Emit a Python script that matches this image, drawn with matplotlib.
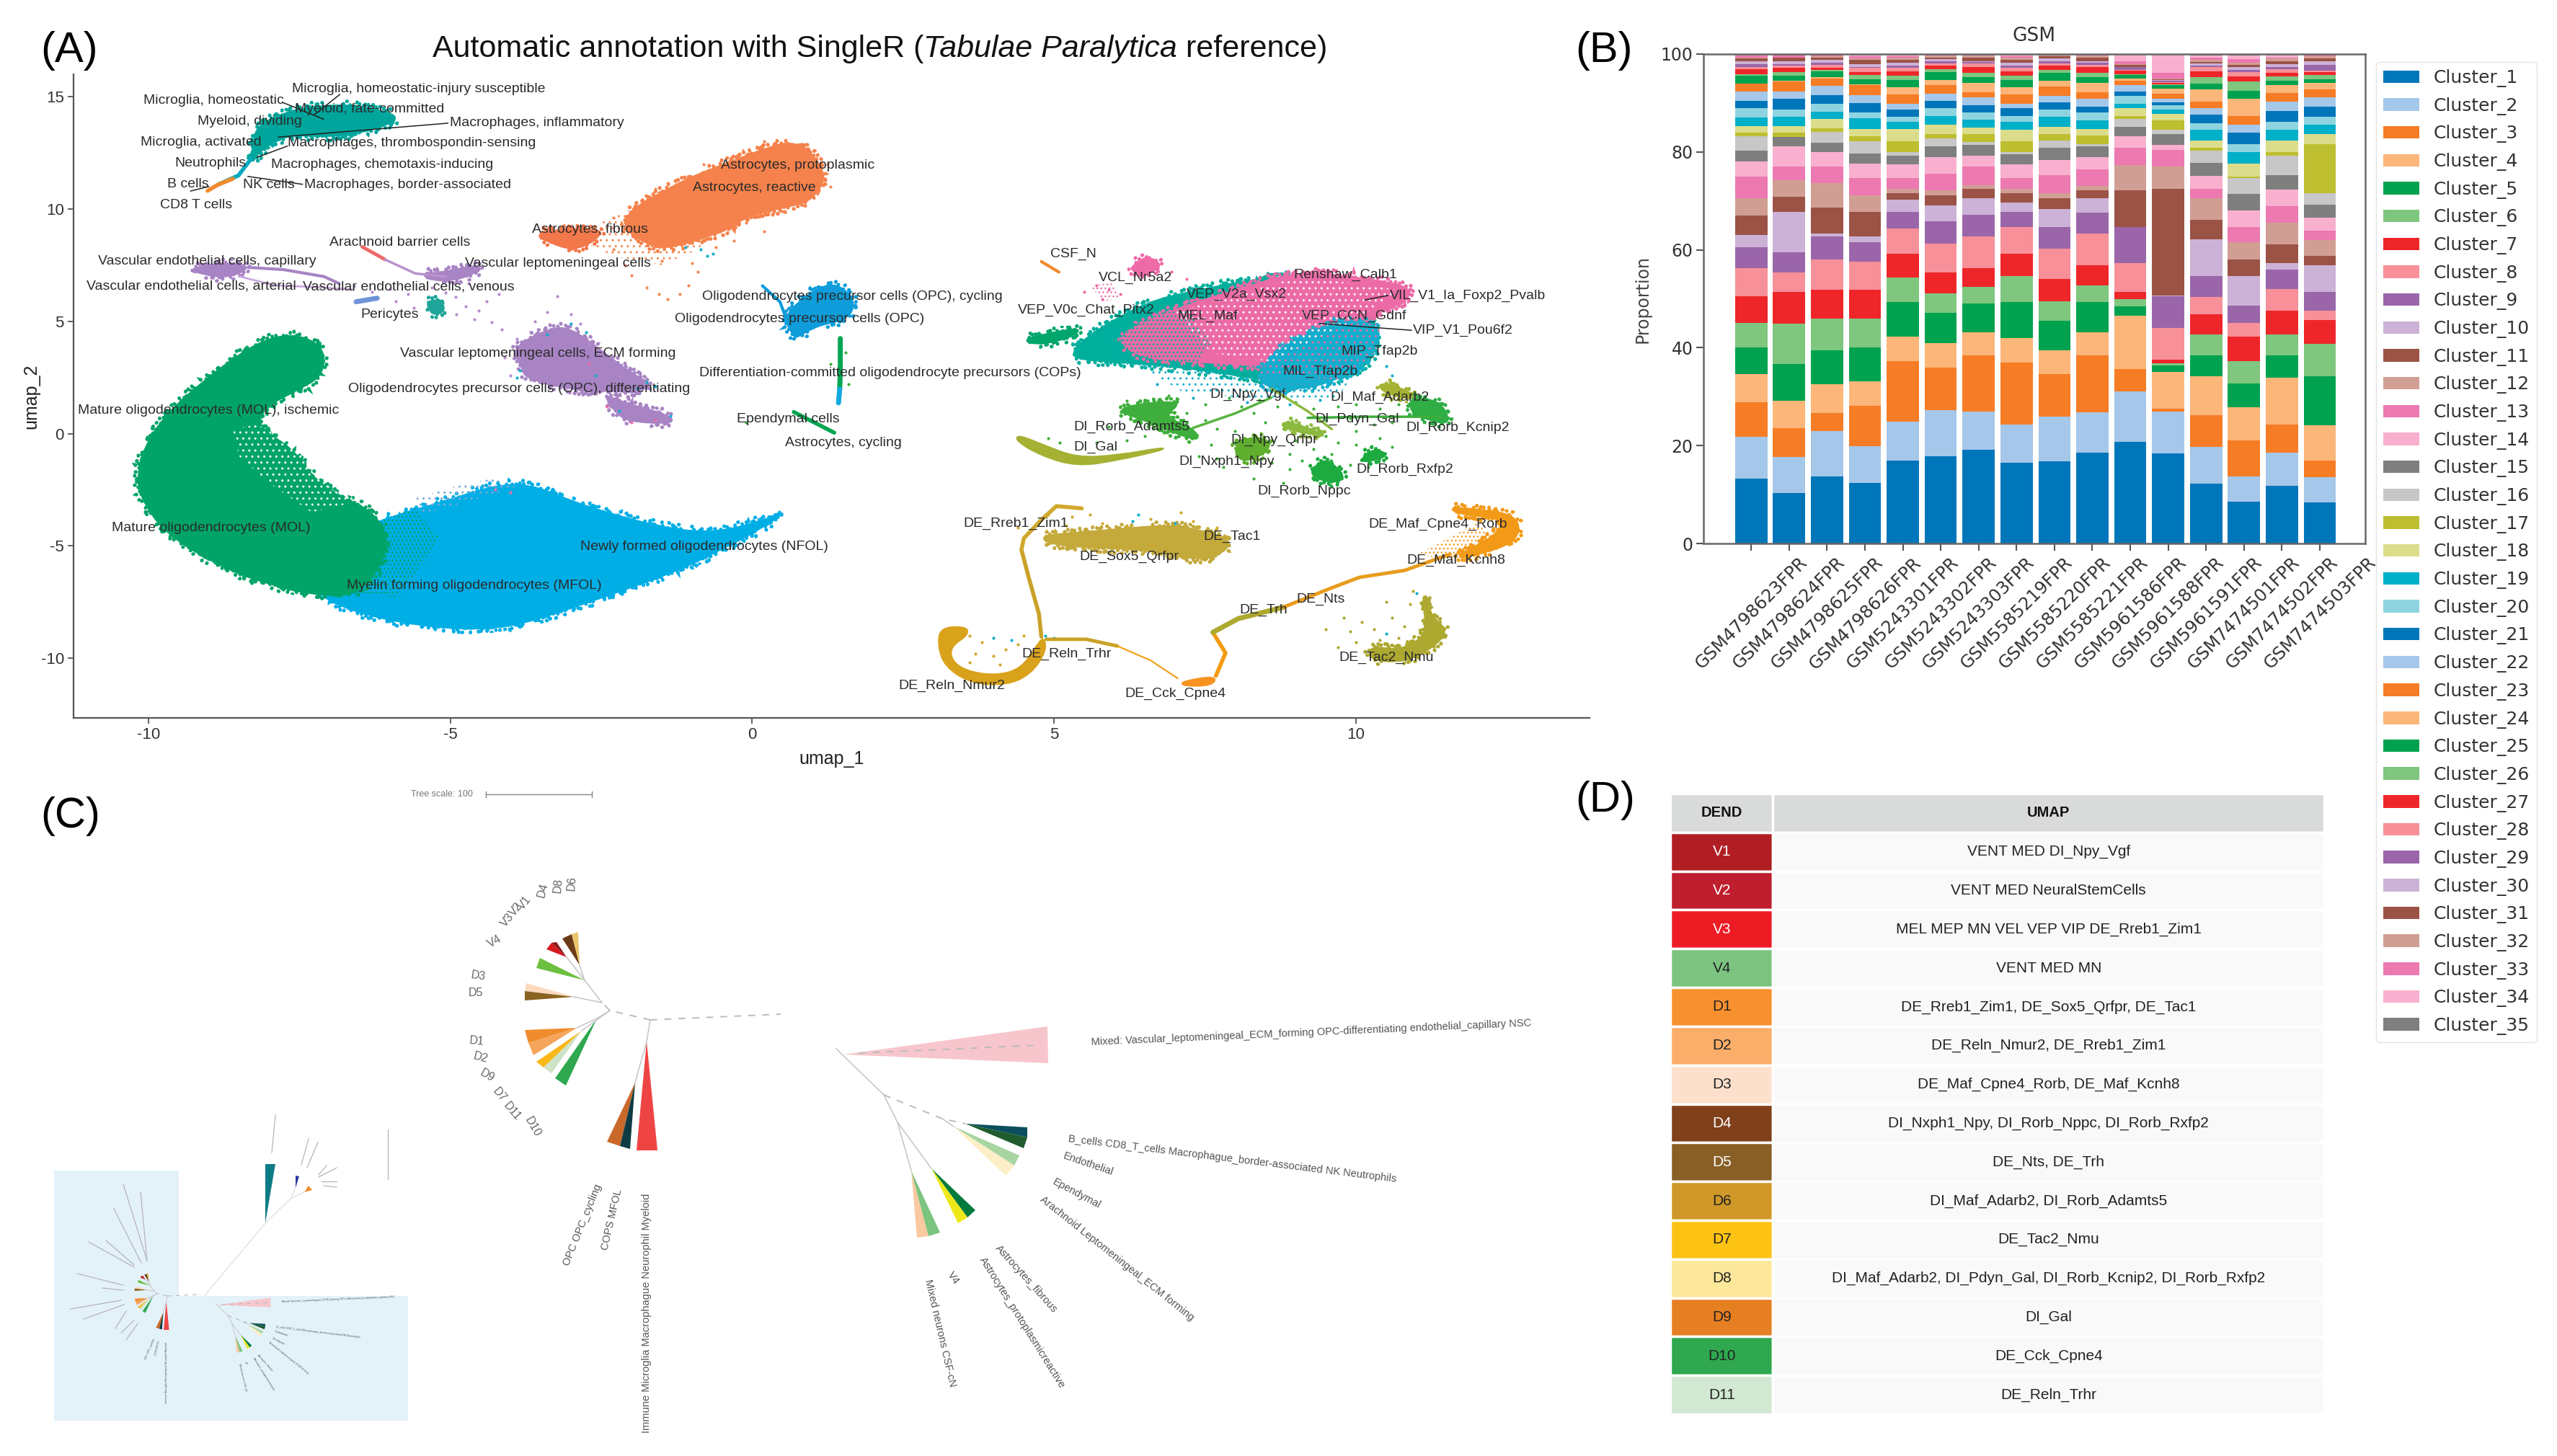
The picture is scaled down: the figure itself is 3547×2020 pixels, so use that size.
import numpy as np
import matplotlib
matplotlib.use('Agg')
import matplotlib.pyplot as plt
from matplotlib.patches import Polygon, Patch, PathPatch
from matplotlib.path import Path
from matplotlib.transforms import Affine2D

W, H = 3547, 2020
plt.rcParams['font.family'] = ['Liberation Sans', 'DejaVu Sans']
plt.rcParams['hatch.linewidth'] = 1.0

# ---------- panel A data, umap units
mol_outline = [(-7.09, 3.82), (-7.51, 4.4), (-8.01, 4.25), (-8.51, 3.5), (-9.10, 2.3), (-9.65, 1.0), (-10.05, -0.47),
               (-10.2, -2.1), (-10.05, -3.2), (-9.7, -4.45), (-8.95, -5.7), (-8.26, -6.5), (-7.26, -7.2), (-6.5, -7.2),
               (-6.0, -5.2), (-6.2, -3.6), (-6.9, -2.7), (-7.3, -1.9), (-7.6, -0.7), (-8.2, 0.3), (-8.1, 1.16), (-7.51, 1.98),
               (-7.11, 2.6)]
mfol_outline = [(-7.26, -7.11), (-6.59, -7.93), (-5.75, -8.44), (-4.74, -8.74), (-3.9, -8.54), (-3.06, -7.82), (-2.06, -6.9),
                (-1.13, -5.98), (-0.38, -4.96), (0.13, -4.25), (0.6, -3.39), (0.13, -3.95), (-0.71, -4.46), (-1.55, -4.15),
                (-2.39, -3.54), (-2.98, -3.03), (-3.73, -2.21), (-4.40, -2.41), (-5.08, -3.03), (-5.91, -3.64), (-6.59, -4.35),
                (-7.09, -5.37)]
mol_holes = [(-8.6, 0.2), (-8.2, 0.4), (-7.5, -0.6), (-6.95, -1.9), (-6.5, -3.0), (-7.3, -3.5), (-8.0, -2.2), (-8.5, -1.0)]
mfol_mix = [(-7.0, -6.9), (-6.6, -4.4), (-5.6, -3.3), (-5.2, -4.6), (-5.5, -6.0), (-5.9, -7.3)]
mid_sparse = [(-5.6, -2.9), (-5.0, -2.4), (-4.3, -2.0), (-3.9, -2.4), (-4.8, -3.1), (-5.5, -3.6)]
myeloid_outline = [(-8.26, 13.02), (-8.18, 13.73), (-7.76, 14.25), (-7.42, 14.51), (-6.75, 14.65), (-6.25, 14.45), (-5.87, 14.14),
                   (-6.0, 13.8), (-6.42, 13.43), (-7.0, 13.22), (-7.63, 13.32), (-7.93, 12.98), (-8.18, 12.51), (-8.3, 12.0)]
myeloid_tail = [(-8.31, 12.2), (-8.51, 11.49), (-8.85, 11.08)]
tcell_tail = [(-8.6, 11.35), (-8.85, 11.08), (-9.02, 10.81)]
astro_outline = [(-2.3, 9.5), (-1.22, 11.18), (-0.46, 12.0), (0.38, 12.85), (0.70, 12.95), (0.98, 12.5), (1.2, 11.59), (1.15, 11.0),
                 (0.94, 10.36), (0.69, 10.16), (-0.04, 9.75), (-0.46, 9.04), (-1.13, 8.42), (-1.64, 8.22)]
astro_sparse = [(-3.0, 8.8), (-2.0, 10.0), (-1.0, 11.2), (-0.3, 10), (-0.9, 8.2), (-1.5, 7.5), (-2.3, 7.9)]
fibrous_outline = [(-3.61, 8.89), (-2.98, 9.14), (-2.47, 9.03), (-2.64, 8.52), (-2.98, 8.17), (-3.36, 8.52)]
capillary_outline = [(-9.31, 7.30), (-8.85, 7.6), (-8.35, 7.5), (-8.43, 7.2), (-8.77, 6.93), (-9.23, 7.2)]
venous_outline = [(-5.5, 7.09), (-5.08, 7.19), (-4.57, 7.5), (-4.49, 7.3), (-4.82, 6.89), (-5.24, 6.79)]
vlmc_outline = [(-3.98, 3.82), (-3.31, 4.74), (-2.98, 4.64), (-2.56, 3.82), (-1.97, 2.6), (-1.64, 2.19), (-1.97, 1.78), (-2.39, 1.98),
                (-2.56, 1.78), (-3.73, 2.39), (-3.82, 3.0)]
opc_diff_outline = [(-2.47, 1.78), (-2.14, 1.37), (-1.55, 0.96), (-1.3, 0.65), (-1.38, 0.45), (-2.06, 0.55), (-2.26, 0.96)]
pericyte_outline = [(-5.41, 5.87), (-5.16, 5.97), (-5.08, 5.46), (-5.29, 5.25)]
opc_outline = [(0.99, 6.27), (1.28, 6.68), (1.57, 6.38), (1.71, 5.66), (1.53, 5.05), (1.11, 4.84), (0.82, 4.43), (0.69, 4.23), (0.55, 5.25),
               (0.78, 5.87)]
neuron_teal = [(5.3, 3.7), (5.7, 4.6), (6.55, 5.87), (7.38, 6.38), (8.47, 6.93), (9.14, 6.99), (9.89, 6.07), (10.43, 4.64), (10.14, 2.6),
               (8.89, 2.19), (7.38, 2.9), (6.05, 3.2), (5.38, 3.31)]
neuron_pink = [(6.0, 4.3), (7.05, 5.6), (8.05, 6.4), (9.0, 7.2), (9.89, 7.0), (10.95, 6.55), (10.8, 5.8), (10.23, 5.25), (9.56, 4.23),
               (8.72, 3.0), (8.05, 3.1), (7.3, 3.2), (6.4, 3.4)]
neuron_cyan = [(9.06, 4.23), (9.72, 5.05), (10.43, 4.84), (10.31, 3.62), (9.89, 2.6), (9.06, 1.9), (8.3, 2.2), (8.64, 3.62)]
neuron_left = [(5.6, 4.6), (7.2, 5.6), (7.6, 4.0), (7.3, 2.9), (6.1, 3.1)]
neuron_mottle = [(7.0, 5.4), (8.0, 6.2), (9.1, 7.0), (10.7, 6.4), (10.1, 5.2), (9.4, 4.3), (8.6, 3.2), (7.6, 3.6)]
neuron_under = [(6.3, 3.2), (8.3, 2.6), (9.9, 2.4), (9.7, 1.6), (8.4, 1.5), (7.1, 1.9)]
v0c_tail = [(4.46, 4.17), (5.0, 4.5), (5.45, 4.7), (5.3, 4.3), (4.75, 3.95)]
vcl_outline = [(6.3, 7.5), (6.55, 7.91), (6.8, 7.5), (6.55, 7.09), (6.3, 7.19)]
vcl_small = [(5.6, 6.6), (5.95, 6.7), (6.1, 6.0), (5.8, 5.9)]
adamts_outline = [(6.0, 1.06), (6.55, 1.37), (7.13, 1.41), (6.8, 0.76), (7.3, 0.25), (7.42, -0.31), (7.09, -0.06), (6.55, 0.55)]
gal_outline = [(4.41, -0.06), (4.87, -0.57), (5.38, -1.08), (6.05, -0.98), (6.8, -0.63), (6.8, -0.72), (6.05, -1.18), (5.38, -1.45),
               (4.79, -0.98), (4.37, -0.31)]
qrfpr_outline = [(7.97, -0.6), (8.22, -0.15), (8.6, -0.3), (8.5, -0.9), (8.1, -1.3)]
pdyn_outline = [(8.8, 0.55), (9.1, 0.35), (9.55, -0.15), (9.2, 0.0), (8.8, 0.25)]
nppc_outline = [(9.39, -1.29), (9.56, -1.19), (9.85, -2.0), (9.56, -2.21), (9.22, -1.8)]
rxfp2_outline = [(10.1, -1.08), (10.31, -0.67), (10.56, -0.98), (10.14, -1.29)]
adarb2_outline = [(10.42, 2.31), (10.97, 1.78), (10.9, 1.5), (10.4, 1.9)]
kcnip2_outline = [(10.9, 1.6), (11.4, 1.45), (11.58, 0.39), (11.15, 0.65), (10.9, 1.0)]
nmur2_outline = [(3.12, -8.65), (3.54, -8.6), (3.58, -8.95), (3.29, -9.46), (3.29, -10.08), (3.54, -10.59), (4.04, -10.79), (4.46, -10.48),
                 (4.71, -9.46), (4.83, -9.05), (4.87, -9.67), (4.62, -10.69), (4.21, -11.2), (3.62, -11.1), (3.2, -10.38), (3.08, -9.46)]
cck_outline = [(7.09, -11.06), (7.68, -10.79), (7.63, -11.2), (7.17, -11.24)]
cpne4_outline = [(11.52, -3.33), (11.9, -3.33), (12.69, -3.64), (12.69, -4.76), (12.07, -5.37), (11.56, -5.58), (12.4, -4.45), (12.4, -3.74),
                 (11.82, -3.64)]
tac2_outline = [(11.1, -7.01), (11.27, -8.24), (11.52, -8.75), (11.31, -9.46), (10.81, -10.18), (10.23, -10.08), (10.23, -9.46), (10.73, -9.67),
                (11.15, -9.05), (11.15, -8.03)]
tac1_outline = [(4.71, -4.56), (5.71, -4.35), (6.96, -4.05), (7.47, -4.35), (7.97, -4.76), (7.72, -5.48), (7.22, -5.58), (6.55, -5.17),
                (5.71, -5.07), (5.04, -4.97)]
cpne4_sparse = [(11.0, -5.4), (12.0, -4.0), (12.3, -4.6), (11.6, -5.6)]

# thin strands, each read as a polyline
capillary_strand = [(-8.35, 7.4), (-7.76, 7.3), (-7.09, 6.99), (-6.84, 6.68)]
capillary_strand2 = [(-8.5, 7.0), (-7.9, 6.6), (-7.2, 6.52), (-6.6, 6.4)]
arachnoid_strand = [(-6.46, 8.32), (-6.08, 7.75)]
venous_strand = [(-6.08, 7.75), (-5.58, 7.13), (-5.08, 6.99)]
arterial_strand = [(-6.56, 5.87), (-6.21, 6.03)]
opc_strand = [(0.17, 6.58), (0.46, 5.87), (0.63, 4.64)]
cop_strand = [(1.46, 4.23), (1.46, 2.8), (1.45, 1.98)]
cop_blue = [(1.45, 1.98), (1.43, 1.37)]
ependymal_strand = [(0.69, 0.96), (1.36, 0.04)]
csf_strand = [(4.79, 7.66), (5.08, 7.19)]
di_strand1 = [(7.3, 0.25), (8.0, 0.9), (8.6, 1.6)]
di_strand2 = [(8.6, 2.0), (9.2, 1.0), (9.6, 0.2)]
di_strand3 = [(9.2, 0.7), (10.2, 0.75), (11.4, 0.75)]
rreb_strand = [(4.46, -5.17), (4.58, -6.4), (4.75, -8.03), (4.79, -9.05)]
rreb_strand2 = [(4.46, -5.17), (4.5, -4.66), (4.79, -3.84), (5.04, -3.23), (5.46, -3.33)]
trhr_strand = [(4.87, -9.16), (5.54, -9.16), (6.05, -9.46)]
trhr_strand2 = [(6.05, -9.46), (6.6, -10.1), (7.05, -10.9)]
cck_strand = [(7.68, -10.79), (7.84, -9.77), (7.63, -8.85)]
trh_strand = [(7.63, -8.85), (8.05, -8.24), (8.8, -7.73)]
nts_strand = [(8.8, -7.73), (9.56, -6.91), (10.06, -6.4), (10.81, -6.09), (11.56, -5.37)]

purple_dots = [(-5.08, 6.27), (-4.91, 6.07), (-4.74, 5.66), (-4.53, 5.46), (-4.32, 4.95), (-4.15, 4.64), (-3.9, 4.23), (-5.3, 6.5), (-4.4, 5.9),
               (-3.23, 6.1), (-3.4, 5.4), (-2.85, 4.9), (-6.6, 6.55), (-6.3, 6.3), (-6.0, 6.45), (-5.7, 6.2), (-4.7, 6.7), (-4.2, 6.2), (-3.6, 5.0),
               (-3.0, 5.3), (-5.9, 5.9), (-5.6, 5.6), (-4.9, 5.3), (-4.6, 5.1), (-4.1, 3.4), (-4.0, 2.6), (-3.1, 2.0), (-2.2, 2.6), (-2.7, 4.0)]
orange_dots = [(-2.0, 7.05), (-1.75, 6.5), (-1.55, 6.2), (-1.4, 6.0), (-1.2, 6.2), (-1.05, 6.6), (-0.9, 7.2), (-0.6, 8.3), (-0.3, 8.6), (0.2, 9.0),
               (-1.0, 7.6), (-1.5, 7.7), (-2.1, 7.5), (-2.3, 8.2), (1.3, 11.0), (1.25, 12.0), (0.2, 13.0), (-0.8, 12.0), (-1.6, 10.9), (-2.3, 9.6),
               (0.5, 9.9), (-0.1, 9.4), (-0.7, 8.7)]
cyan_dots = [(-3.4, 4.4), (-3.0, 4.9), (-2.75, 4.5), (-3.9, 2.5), (-2.2, 1.0), (-0.85, 8.2), (-0.75, 7.9), (-0.65, 8.0), (-1.1, 8.3), (-1.6, 2.1),
             (-1.75, 2.3), (-1.9, 2.0), (-2.6, 2.6), (-1.35, 0.8), (-3.85, 2.8), (7.0, -4.0), (6.3, -3.9), (6.4, -3.6), (10.5, -8.9), (11.0, -7.1),
             (4.0, -9.1), (4.3, -9.2), (4.85, -9.0), (5.0, -9.1), (8.2, 1.4), (8.9, 1.3), (9.4, 1.5), (7.3, 1.6), (6.7, 2.2), (10.5, 3.0), (10.6, 2.6)]
pink_dots = [(-2.4, 1.2), (-2.0, 0.5), (-1.6, 0.6), (-2.7, 3.1), (5.5, 6.3), (5.8, 6.0), (6.1, 6.2), (7.2, 6.9), (-4.25, -2.5), (-4.0, -2.6),
             (6.95, 7.2), (5.9, 6.4), (5.7, 6.6), (10.9, 6.2), (10.8, 5.8)]
green_dots = [(7.2, 0.9), (7.5, 0.6), (7.7, 0.2), (8.0, 0.1), (8.3, 0.9), (8.5, 0.5), (8.7, 1.2), (9.0, 1.4), (9.3, 1.1), (9.7, 1.2), (10.0, 1.3), (10.4, 1.1),
              (10.6, 0.5), (10.0, 0.1), (9.7, -0.4), (9.3, -0.7), (8.9, -0.9), (8.6, -1.3), (8.9, -1.6), (9.1, -1.2), (10.0, -0.5), (10.4, -0.2), (10.2, -1.5),
              (9.9, -1.4), (7.6, -0.5), (7.4, -1.0), (7.8, -1.5), (8.3, -2.0), (8.8, -2.2), (6.5, -0.1), (6.2, -0.3), (5.9, 0.3), (6.9, 1.7), (7.5, 1.3),
              (6.2, 1.45), (5.7, -0.4), (5.1, -0.4), (4.9, -0.2), (-0.1, 0.5), (1.55, 3.6), (1.3, 3.1), (1.6, 2.2), (7.9, 1.6), (8.1, 1.2), (8.4, 1.5),
              (9.5, 0.6), (9.9, 0.7), (10.3, 0.4), (10.7, 1.3), (8.0, -0.4), (7.7, -1.1), (9.5, -0.1), (9.0, -0.3), (10.6, -0.6), (9.6, -0.9), (7.1, 0.4)]
mustard_dots = [(4.9, -3.6), (5.3, -3.7), (5.6, -3.6), (5.2, -4.1), (5.8, -4.0), (6.2, -4.1), (6.6, -3.8), (7.1, -3.5), (7.3, -3.9), (7.7, -4.2), (4.4, -4.2),
                (3.6, -9.0), (3.8, -9.3), (3.7, -9.8), (4.0, -9.9), (4.2, -9.6), (4.4, -9.4), (4.5, -9.0), (4.1, -10.3), (3.6, -10.2)]
olive_dots = [(9.8, -8.2), (9.9, -8.8), (10.1, -8.4), (10.3, -8.7), (10.6, -8.2), (10.5, -7.5), (10.9, -7.6), (10.8, -8.6), (10.7, -9.1), (10.0, -9.3), (9.7, -9.5),
              (10.4, -9.2), (10.95, -7.0), (9.5, -8.7)]

umap_labels = ['Microglia, homeostatic-injury susceptible', 'Microglia, homeostatic', 'Myeloid, fate-committed', 'Myeloid, dividing',
               'Macrophages, inflammatory', 'Microglia, activated', 'Macrophages, thrombospondin-sensing', 'Neutrophils',
               'Macrophages, chemotaxis-inducing', 'B cells', 'NK cells', 'Macrophages, border-associated', 'CD8 T cells',
               'Astrocytes, protoplasmic', 'Astrocytes, reactive', 'Astrocytes, fibrous', 'Arachnoid barrier cells',
               'Vascular endothelial cells, capillary', 'Vascular leptomeningeal cells', 'Vascular endothelial cells, arterial',
               'Vascular endothelial cells, venous', 'Pericytes', 'Oligodendrocytes precursor cells (OPC), cycling',
               'Oligodendrocytes precursor cells (OPC)', 'Vascular leptomeningeal cells, ECM forming',
               'Oligodendrocytes precursor cells (OPC), differentiating', 'Differentiation-committed oligodendrocyte precursors (COPs)',
               'Mature oligodendrocytes (MOL), ischemic', 'Ependymal cells', 'Astrocytes, cycling', 'Mature oligodendrocytes (MOL)',
               'Myelin forming oligodendrocytes (MFOL)', 'Newly formed oligodendrocytes (NFOL)', 'CSF_N', 'VCL_Nr5a2', 'VEP_V0c_Chat_Pitx2',
               'VEP_V2a_Vsx2', 'MEL_Maf', 'Renshaw_Calb1', 'VIL_V1_Ia_Foxp2_Pvalb', 'VEP_CCN_Gdnf', 'VIP_V1_Pou6f2', 'MIP_Tfap2b', 'MIL_Tfap2b',
               'DI_Npy_Vgf', 'DI_Maf_Adarb2', 'DI_Pdyn_Gal', 'DI_Rorb_Kcnip2', 'DI_Rorb_Adamts5', 'DI_Npy_Qrfpr', 'DI_Gal', 'DI_Nxph1_Npy',
               'DI_Rorb_Rxfp2', 'DI_Rorb_Nppc', 'DE_Rreb1_Zim1', 'DE_Tac1', 'DE_Sox5_Qrfpr', 'DE_Maf_Cpne4_Rorb', 'DE_Maf_Kcnh8', 'DE_Nts',
               'DE_Trh', 'DE_Reln_Trhr', 'DE_Tac2_Nmu', 'DE_Reln_Nmur2', 'DE_Cck_Cpne4']
umap_label_x = [-7.62, -10.08, -7.57, -9.19, -5.01, -10.13, -7.69, -9.56, -7.97, -9.69, -8.43, -7.42, -9.81, -0.52, -0.98, -3.65, -7.0, -10.84, -4.76,
                -11.02, -7.44, -6.48, -0.83, -1.28, -5.83, -6.69, -0.88, -11.17, -0.26, 0.55, -10.61, -6.71, -2.85, 4.94, 5.74, 4.4, 7.2, 7.05, 8.97,
                10.56, 9.1, 10.94, 9.75, 8.79, 7.58, 9.58, 9.32, 10.83, 5.32, 7.93, 5.32, 7.07, 10, 8.37, 3.5, 7.47, 5.42, 10.21, 10.84, 9.01, 8.07,
                4.46, 9.72, 2.42, 6.17]
umap_label_y = [15.35, 14.84, 14.45, 13.9, 13.82, 12.98, 12.92, 12.04, 11.98, 11.1, 11.06, 11.06, 10.16, 11.94, 10.93, 9.09, 8.5, 7.68, 7.56, 6.58, 6.54,
                5.31, 6.11, 5.09, 3.56, 1.98, 2.7, 1.04, 0.65, -0.41, -4.21, -6.76, -5.03, 7.99, 6.93, 5.48, 6.21, 5.25, 7.05, 6.15, 5.23, 4.58, 3.66,
                2.76, 1.74, 1.61, 0.63, 0.25, 0.29, -0.29, -0.59, -1.25, -1.59, -2.55, -4.01, -4.6, -5.5, -4.05, -5.64, -7.38, -7.87, -9.83, -9.99,
                -11.24, -11.59]
# leader lines of the repelled labels
leaders = [[(-6.83, 15.1), (-7.25, 14.2)], [(-7.78, 14.75), (-7.1, 14.0)], [(-5.04, 13.82), (-7.85, 13.2)], [(-7.7, 12.8), (-8.2, 12.3)],
           [(-7.45, 11.1), (-8.35, 11.45)], [(-9.3, 10.8), (-9.0, 11.0)], [(10.53, 6.15), (10.15, 5.95)], [(10.92, 4.6), (9.4, 4.9)]]

# ---------- panel B data
gsm_samples = ['GSM4798623FPR', 'GSM4798624FPR', 'GSM4798625FPR', 'GSM4798626FPR', 'GSM5243301FPR', 'GSM5243302FPR', 'GSM5243303FPR', 'GSM5585219FPR',
               'GSM5585220FPR', 'GSM5585221FPR', 'GSM5961586FPR', 'GSM5961588FPR', 'GSM5961591FPR', 'GSM7474501FPR', 'GSM7474502FPR', 'GSM7474503FPR']
cluster_names = ['Cluster_%d' % i for i in range(1, 36)]
cluster_colours = ['#0076BA', '#A5C7E9', '#F67C26', '#FCB679', '#00A24F', '#7FC67F', '#EE262A', '#F79098', '#9A66A9', '#CCB2D6',
                   '#9B5346', '#D19E94', '#EC79B0', '#F8B0CE', '#7F7F7F', '#C7C7C7', '#BDBE30', '#DBDD8B', '#00AFC8', '#8ED4E0']
# cumulative top of each cluster in each bar, in percent
# the thin clusters at the top of a bar are not always readable, what is missing runs up to 100
top_1 = [13.2, 21.8, 28.9, 34.6, 40.1, 45.1, 50.5, 56.2, 60.5, 63.0, 67.0, 70.5, 74.9, 78.1, 80.3, 83.2, 83.9, 85.3, 87.0, 88.9, 90.4, 92.4, 93.9, 93.9, 95.6,
         95.9, 96.9, 97.3, 98.0, 98.5, 99.1, 99.3, 99.7, 99.9]
top_2 = [10.3, 17.6, 23.5, 29.2, 36.6, 44.9, 51.4, 55.4, 59.5, 67.8, 70.8, 74.3, 77.0, 81.1, 83.0, 83.1, 83.9, 85.3, 87.2, 88.6, 90.9, 92.4, 94.4, 94.5, 95.6,
         96.3, 97.2, 97.6, 98.0, 98.6, 99.2, 99.3, 99.9]
top_3 = [13.7, 23.0, 26.6, 32.6, 39.5, 45.9, 51.9, 58.1, 62.7, 63.4, 68.6, 73.6, 77.0, 80.0, 81.9, 84.1, 84.9, 86.7, 88.2, 89.9, 91.6, 93.5, 95.0, 95.3, 96.4,
         96.8, 97.2, 97.8, 98.3, 98.8, 99.3, 99.6, 99.8]
top_4 = [12.4, 19.9, 28.1, 33.1, 40.1, 45.9, 51.9, 57.6, 61.6, 62.8, 67.8, 71.1, 74.6, 77.6, 79.7, 82.2, 83.2, 84.7, 86.9, 88.1, 90.0, 91.6, 93.6, 93.8, 94.9,
         95.8, 96.3, 97.2, 97.4, 98.0, 98.8, 99.1, 99.6]
top_5 = [17.0, 24.9, 37.3, 42.2, 49.3, 54.3, 59.2, 64.4, 67.8, 70.3, 71.6, 72.4, 74.7, 77.4, 79.3, 79.9, 82.2, 84.7, 86.1, 87.2, 88.7, 89.9, 91.7, 93.2, 94.7,
         95.6, 96.5, 97.2, 97.6, 98.3, 98.8, 99.2, 99.6]
top_6 = [17.8, 27.3, 35.9, 41.0, 47.1, 51.1, 55.4, 61.2, 65.9, 69.1, 71.1, 72.1, 75.5, 78.9, 81.1, 82.7, 83.6, 85.5, 87.4, 88.9, 90.4, 91.9, 93.6, 94.7, 96.3,
         96.9, 97.6, 98.1, 98.5, 98.9, 99.3, 99.7, 99.9]
top_7 = [19.2, 27.0, 38.4, 43.2, 49.0, 52.4, 56.2, 62.8, 67.1, 70.6, 72.5, 73.2, 77.0, 79.2, 81.4, 82.0, 83.6, 85.0, 86.6, 88.0, 89.5, 91.1, 92.2, 94.1, 95.3,
         96.2, 97.3, 98.1, 98.4, 98.6, 99.2, 99.7, 99.9]
top_8 = [16.5, 24.3, 37.0, 41.9, 49.3, 54.6, 59.2, 64.7, 67.8, 69.7, 71.6, 72.4, 74.7, 77.4, 79.5, 79.9, 82.2, 84.5, 86.1, 87.3, 88.9, 89.9, 91.7, 93.2, 94.7,
         95.6, 96.5, 97.2, 97.6, 98.3, 98.8, 99.3, 99.6]
top_9 = [16.8, 25.9, 34.6, 39.4, 45.5, 49.5, 54.1, 60.3, 64.7, 68.4, 70.5, 71.6, 75.2, 78.4, 80.8, 82.4, 83.6, 85.1, 87.2, 88.6, 90.1, 91.5, 93.4, 94.6, 96.1,
         96.8, 97.6, 98.1, 98.6, 99.1, 99.5, 99.8, 99.9]
top_10 = [18.6, 26.8, 38.4, 43.2, 49.3, 52.7, 56.8, 63.3, 67.6, 70.5, 72.2, 73.0, 76.5, 78.9, 81.2, 81.6, 83.3, 84.7, 86.4, 88.0, 89.3, 90.9, 92.2, 94.1, 95.3,
          96.1, 97.3, 97.8, 98.2, 98.6, 99.2, 99.7, 99.9]
top_11 = [20.8, 31.1, 35.7, 46.5, 48.4, 50.0, 51.4, 57.3, 64.7, 64.7, 72.2, 77.3, 80.8, 83.2, 85.1, 86.8, 87.4, 88.9, 89.9, 91.4, 92.4, 93.6, 94.5, 95.0, 95.8,
          95.9, 96.6, 96.8, 97.3, 97.4, 97.8, 98.0, 98.5, 100]
top_12 = [18.4, 27.0, 27.6, 35.1, 36.4, 36.8, 37.6, 44.1, 50.5, 50.7, 72.5, 77.0, 80.4, 81.4, 83.6, 84.6, 86.4, 87.8, 88.6, 89.5, 90.1, 90.8, 91.9, 92.9, 93.6,
          93.8, 94.1, 94.3, 94.5, 94.7, 94.9, 95.0, 96.1, 99.8]
top_13 = [12.2, 19.7, 26.2, 34.1, 38.4, 42.7, 46.8, 50.3, 54.6, 62.2, 66.2, 70.5, 72.4, 75.1, 77.8, 80.3, 80.8, 82.4, 84.5, 85.8, 87.6, 89.0, 90.3, 92.8, 93.9,
          95.3, 96.5, 97.3, 97.6, 98.1, 98.4, 98.8, 99.2, 99.7]
top_14 = [8.6, 13.7, 21.1, 27.8, 32.7, 37.3, 42.2, 45.1, 48.6, 54.6, 58.1, 61.6, 64.7, 68.1, 71.4, 74.6, 75.0, 77.6, 79.9, 81.6, 83.9, 85.5, 87.4, 90.9, 92.5,
          94.4, 95.5, 96.3, 96.8, 97.4, 97.8, 98.3, 98.9, 99.7]
top_15 = [11.8, 18.6, 24.3, 33.8, 38.4, 42.7, 47.6, 52.0, 55.9, 57.3, 61.1, 65.5, 68.9, 72.3, 75.2, 79.2, 80.0, 82.4, 84.5, 86.2, 88.4, 90.3, 92.0, 93.6, 94.5,
          95.5, 96.2, 96.9, 97.4, 98.0, 98.5, 99.1, 99.3, 99.8]
top_16 = [8.4, 13.5, 17.0, 24.1, 34.1, 40.8, 45.7, 47.6, 51.4, 56.8, 58.7, 62.0, 63.9, 66.6, 69.2, 71.6, 81.6, 83.6, 85.5, 87.2, 89.3, 91.2, 92.8, 94.1, 94.9,
          95.8, 96.3, 96.6, 97.8, 98.5, 99.1, 99.5, 99.8]
all_tops = [top_1, top_2, top_3, top_4, top_5, top_6, top_7, top_8, top_9, top_10, top_11, top_12, top_13, top_14, top_15, top_16]

# ---------- panel C data, picture pixels of the large tree
wedge_points = [[(1170, 1463), (1453, 1424), (1454, 1475)],
                [(1339, 1559), (1425, 1564), (1425, 1578)], [(1339, 1559), (1425, 1578), (1420, 1593)],
                [(1323, 1563), (1414, 1603), (1407, 1617)], [(1323, 1563), (1407, 1617), (1395, 1631)],
                [(1292, 1621), (1353, 1679), (1342, 1689)], [(1292, 1621), (1342, 1689), (1329, 1697)],
                [(1264, 1624), (1272, 1717), (1288, 1715)], [(1264, 1624), (1288, 1715), (1304, 1710)],
                [(804, 1339), (780, 1302), (793, 1296)], [(804, 1339), (793, 1296), (802, 1293)],
                [(786, 1328), (758, 1317), (765, 1308)], [(786, 1328), (765, 1308), (772, 1307)],
                [(811, 1360), (749, 1329), (744, 1343)],
                [(796, 1383), (730, 1364), (728, 1375)], [(796, 1383), (728, 1375), (728, 1388)],
                [(800, 1426), (728, 1429), (733, 1447)], [(800, 1426), (733, 1447), (740, 1464)],
                [(807, 1430), (744, 1473), (754, 1481)], [(807, 1430), (754, 1481), (765, 1489)],
                [(828, 1413), (770, 1496), (785, 1506)],
                [(881, 1502), (842, 1584), (860, 1590)], [(881, 1502), (860, 1590), (874, 1594)],
                [(897, 1445), (883, 1596), (912, 1596)]]
wedge_colours = ['#F7C6CC', '#0B4F5E', '#1F5C2E', '#A8D5A2', '#FCEFC7', '#007A3D', '#EEE81A', '#F9C9A0', '#7CC47F',
                 '#6B3A16', '#E8C46A', '#D7181F', '#8B1A1A', '#6CBF3F', '#FBD9BF', '#8B6320', '#F08C2E', '#F5A55A',
                 '#F8B918', '#CFE3C8', '#2FA84F', '#C8692A', '#0E3B43', '#EF4444']
branch_lines = [[(902, 1415), (897, 1445), (881, 1502)], [(835, 1391), (811, 1360)], [(811, 1360), (804, 1339)],
                [(811, 1360), (786, 1328)], [(835, 1391), (796, 1383)], [(846, 1402), (828, 1413)], [(846, 1402), (807, 1430)],
                [(828, 1413), (800, 1426)], [(1160, 1455), (1226, 1519), (1245, 1557), (1264, 1624)], [(1245, 1557), (1292, 1621)],
                [(1307, 1552), (1323, 1563)]]
dashed_lines = [[(902, 1415), (1083, 1407)], [(1191, 1461), (1444, 1450)], [(902, 1415), (846, 1402), (835, 1391)], [(1226, 1519), (1307, 1552), (1339, 1559)]]
tree_text = ['Mixed: Vascular_leptomeningeal_ECM_forming OPC-differentiating endothelial_capillary NSC',
             'B_cells CD8_T_cells Macrophague_border-associated NK Neutrophils', 'Endothelial', 'Ependymal',
             'Arachnoid Leptomeningeal_ECM forming', 'Astrocytes_fibrous', 'Astrocytes_protoplasmicreactive', 'V4',
             'Mixed neurons CSF-cN', 'OPC OPC_cycling', 'COPS MFOL', 'Immune Microglia Macrophague Neurophil Myeloid']
tree_text_x = [1514, 1482, 1475, 1461, 1444, 1383, 1362, 1317, 1287, 786, 839, 897]
tree_text_y = [1446, 1580, 1603, 1639, 1663, 1729, 1745, 1766, 1775, 1755, 1734, 1988]
tree_text_rot = [2.5, -7, -19, -28, -38.5, -48, -58, -55, -77, 68, 77, 90]
clade_text = ['D6', 'D8', 'D4', 'V1', 'V2', 'V3', 'V4', 'D3', 'D5', 'D1', 'D2', 'D9', 'D7', 'D11', 'D10']
clade_x = [793, 774, 753, 728, 716, 704, 686, 663, 660, 661, 667, 676, 693, 710, 739]
clade_y = [1225, 1228, 1235, 1253, 1262, 1277, 1306, 1354, 1378, 1444, 1467, 1492, 1519, 1542, 1563]
clade_rot = [85, 85, 75, 50, 50, 50, 30, -8, 0, -5, -15, -30, -50, -50, -60]
# second small tree of the inset, its labels are too small to read so only streaks remain
inset_wedges = [[(368, 1697), (368, 1615), (382, 1615)], [(410, 1648), (410, 1631), (415, 1632)], [(422, 1654), (428, 1645), (433, 1651)]]
inset_colours = ['#0E7C86', '#2E3A9E', '#F08C2E']
inset_lines = [[(284, 1797), (368, 1697), (403, 1663), (422, 1654)], [(403, 1663), (410, 1648)]]
inset_streaks = [[(382, 1547), (377, 1599)], [(428, 1580), (418, 1616)], [(441, 1585), (426, 1620)], [(467, 1620), (442, 1633)],
                 [(453, 1617), (442, 1630)], [(467, 1639), (446, 1639)], [(467, 1647), (449, 1645)], [(538, 1567), (538, 1636)],
                 [(171, 1643), (204, 1749)], [(195, 1654), (204, 1749)], [(158, 1677), (196, 1752)], [(123, 1723), (186, 1758)],
                 [(147, 1721), (186, 1755)], [(107, 1767), (171, 1783)], [(142, 1787), (171, 1790)], [(98, 1816), (168, 1804)],
                 [(116, 1830), (172, 1810)], [(160, 1843), (175, 1819)], [(168, 1849), (186, 1832)], [(175, 1859), (191, 1836)]]
inset_box = [(75, 1624), (248, 1624), (248, 1798), (566, 1798), (566, 1971), (75, 1971)]

# ---------- panel D data
dend_labels = ['V1', 'V2', 'V3', 'V4', 'D1', 'D2', 'D3', 'D4', 'D5', 'D6', 'D7', 'D8', 'D9', 'D10', 'D11']
umap_groups = ['VENT MED DI_Npy_Vgf', 'VENT MED NeuralStemCells', 'MEL MEP MN VEL VEP VIP DE_Rreb1_Zim1', 'VENT MED MN',
               'DE_Rreb1_Zim1, DE_Sox5_Qrfpr, DE_Tac1', 'DE_Reln_Nmur2, DE_Rreb1_Zim1', 'DE_Maf_Cpne4_Rorb, DE_Maf_Kcnh8',
               'DI_Nxph1_Npy, DI_Rorb_Nppc, DI_Rorb_Rxfp2', 'DE_Nts, DE_Trh', 'DI_Maf_Adarb2, DI_Rorb_Adamts5', 'DE_Tac2_Nmu',
               'DI_Maf_Adarb2, DI_Pdyn_Gal, DI_Rorb_Kcnip2, DI_Rorb_Rxfp2', 'DI_Gal', 'DE_Cck_Cpne4', 'DE_Reln_Trhr']
dend_colours = ['#B01E23', '#BE1E2D', '#ED1C24', '#7CC47F', '#F7902E', '#FBAE6A', '#FDE0CC', '#7F401A', '#895F26', '#D09828', '#FDC314',
                '#FDE79A', '#E67E22', '#2FA84F', '#D2E8D2']
light_text = ['V1', 'V2', 'V3', 'D4', 'D5']


def px_axes(fig, left, top, right, bottom):
    return fig.add_axes([left / W, 1 - bottom / H, (right - left) / W, (bottom - top) / H])


def soft_path(xy):
    # closed outline with the read points as curve controls
    pts = np.array(xy, dtype=float)
    mids = (pts + np.roll(pts, -1, axis=0)) / 2
    verts = [mids[-1]]
    codes = [Path.MOVETO]
    for p, m in zip(pts, mids):
        verts += [p, m]
        codes += [Path.CURVE3, Path.CURVE3]
    return Path(verts, codes)


fig = plt.figure(figsize=(W / 100, H / 100), dpi=100)

# ---------- (A) umap
ax = px_axes(fig, 102, 103, 2205, 996)


def blob(xy, colour, lw=2, fuzz=True):
    ax.add_patch(PathPatch(soft_path(xy), facecolor=colour, edgecolor=colour, lw=lw))
    if fuzz:
        edge = PathPatch(soft_path(xy), facecolor='none', edgecolor=colour, lw=3.5, ls=(0, (0.15, 1.4)), capstyle='round')
        edge.set_sketch_params(scale=7, length=24, randomness=30)
        ax.add_patch(edge)


def stipple(xy, colour, hatch='.....'):
    ax.add_patch(Polygon(xy, closed=True, facecolor='none', edgecolor=colour, hatch=hatch, lw=0))


def strand(xy, colour, lw=3):
    pts = np.array(xy)
    ax.plot(pts[:, 0], pts[:, 1], color=colour, lw=lw, solid_capstyle='round')


def dots(xy, colour):
    pts = np.array(xy)
    ax.scatter(pts[:, 0], pts[:, 1], s=9, color=colour, lw=0)


blob(mfol_outline, '#00AEE6')
blob(mol_outline, '#00A468')
stipple(mfol_mix, '#00A468', '...')
stipple(mid_sparse, '#7FA8D8', '..')
stipple(mol_holes, '#FFFFFF', '..')
blob(myeloid_outline, '#00A69C')
strand(myeloid_tail, '#00A9C0', 4)
strand(tcell_tail, '#F08A2C', 4)
stipple(astro_sparse, '#F5874F', '..')
blob(astro_outline, '#F5824C')
blob(fibrous_outline, '#F2784B')
blob(capillary_outline, '#A884C4')
blob(venous_outline, '#A884C4')
strand(capillary_strand, '#A884C4', 3)
strand(capillary_strand2, '#C9A9DD', 2)
strand(arachnoid_strand, '#F0686A', 3.5)
strand(venous_strand, '#B992CE', 2.5)
strand(arterial_strand, '#6E94D6', 5)
blob(pericyte_outline, '#1FA59A')
blob(vlmc_outline, '#A884C4')
blob(opc_diff_outline, '#A884C4')
blob(opc_outline, '#0E9CDA')
strand(opc_strand, '#0E9CDA', 3)
strand(cop_strand, '#00A651', 5)
strand(cop_blue, '#12A9E0', 5)
strand(ependymal_strand, '#00A651', 4)
strand(csf_strand, '#F08A2C', 3)
blob(neuron_teal, '#00AE9C')
stipple(neuron_left, '#12AECD', '...')
blob(neuron_pink, '#EC6BA6')
blob(neuron_cyan, '#12AECD')
stipple(neuron_cyan, '#EC6BA6', '..')
stipple(neuron_left, '#00AE9C', '...')
stipple(neuron_mottle, '#FFFFFF', '..')
stipple(neuron_under, '#12AECD', '..')
blob(v0c_tail, '#00A66C')
blob(vcl_outline, '#EE6BA8')
stipple(vcl_small, '#EE6BA8', '...')
blob(adamts_outline, '#3EAE3C')
blob(gal_outline, '#A4B132', fuzz=False)
blob(qrfpr_outline, '#5FAE2E')
blob(pdyn_outline, '#8DB93F')
blob(nppc_outline, '#1DAA3F')
blob(rxfp2_outline, '#1DAA3F')
blob(adarb2_outline, '#A4B132')
blob(kcnip2_outline, '#2FAE45')
strand(di_strand1, '#58B33F', 2.5)
strand(di_strand2, '#8DB93F', 2.5)
strand(di_strand3, '#3EAE3C', 2.5)
blob(nmur2_outline, '#D9A21B', fuzz=False)
strand(rreb_strand, '#C9A227', 4)
strand(rreb_strand2, '#D0A92D', 4)
strand(trhr_strand, '#C9A227', 3.5)
strand(trhr_strand2, '#F39C12', 1.5)
strand(cck_strand, '#F39C12', 4)
blob(cck_outline, '#F7931E', fuzz=False)
strand(trh_strand, '#ADA82F', 5)
strand(nts_strand, '#E89B1C', 3.5)
stipple(cpne4_sparse, '#F29A18', '...')
blob(cpne4_outline, '#F29A18')
blob(tac2_outline, '#ADA82F')
blob(tac1_outline, '#C4A93B')
dots(purple_dots, '#B58AD0')
dots(orange_dots, '#F5874F')
dots(cyan_dots, '#12AECD')
dots(pink_dots, '#EE6BA8')
dots(green_dots, '#3EAE3C')
dots(mustard_dots, '#D0A92D')
dots(olive_dots, '#ADA82F')

for seg in leaders:
    seg = np.array(seg)
    ax.plot(seg[:, 0], seg[:, 1], color='#222222', lw=1.1)
for name, lx, ly in zip(umap_labels, umap_label_x, umap_label_y):
    ax.text(lx, ly, name, fontsize=14, color='#2B2B2B', va='center', ha='left', clip_on=False, zorder=6)

ax.set_xlim(-11.24, 13.87)
ax.set_ylim(-12.66, 16.0)
ax.set_xticks([-10, -5, 0, 5, 10])
ax.set_xticklabels(['-10', '-5', '0', '5', '10'])
ax.set_yticks([-10, -5, 0, 5, 10, 15])
ax.set_yticklabels(['-10', '-5', '0', '5', '10', '15'])
ax.tick_params(labelsize=16, length=6, width=1.3, color='#555555', labelcolor='#333333')
ax.spines[['top', 'right']].set_visible(False)
ax.spines[['left', 'bottom']].set_linewidth(1.6)
ax.spines[['left', 'bottom']].set_color('#555555')
ax.set_xlabel('umap_1', fontsize=18, labelpad=8, color='#222222')
ax.set_ylabel('umap_2', fontsize=18, labelpad=1, color='#222222')

# ---------- (B) stacked bars
bx = px_axes(fig, 2363, 75, 3281, 754)
positions = np.arange(len(gsm_samples))
tops = np.array([t + [100.0] * (35 - len(t)) for t in all_tops])
previous = np.zeros(len(gsm_samples))
for k in range(35):
    bx.bar(positions, tops[:, k] - previous, bottom=previous, width=0.85, color=cluster_colours[k % 20], label=cluster_names[k])
    previous = tops[:, k]
bx.set_xlim(-1.26, 16.2)
bx.set_ylim(0, 100)
bx.set_yticks(np.arange(0, 101, 20))
bx.set_xticks(positions)
bx.set_xticklabels(gsm_samples, rotation=45, ha='center', family='DejaVu Sans', fontsize=17.5, color='#333333')
for t in bx.get_yticklabels():
    t.set_family('DejaVu Sans')
bx.tick_params(axis='y', labelsize=17, length=7, width=1.5, color='#555555', labelcolor='#333333')
bx.tick_params(axis='x', length=7, width=1.5, color='#555555')
for s in bx.spines.values():
    s.set_linewidth(1.8)
    s.set_color('#666666')
bx.set_ylabel('Proportion', fontsize=17, family='DejaVu Sans', color='#444444', labelpad=9)
bx.set_title('GSM', fontsize=19, family='DejaVu Sans', color='#333333', pad=13)
handles = [Patch(facecolor=cluster_colours[k % 20], label=cluster_names[k]) for k in range(35)]
fig.legend(handles=handles, loc='upper left', bbox_to_anchor=(3296 / W, 1 - 86 / H), borderaxespad=0, labelspacing=0.547,
           prop={'family': 'DejaVu Sans', 'size': 18}, labelcolor='#333333', frameon=True, edgecolor='#DDDDDD')

# ---------- (C) trees, in picture pixels
tx = fig.add_axes([0, 0, 1, 1])
tx.set_xlim(0, W)
tx.set_ylim(H, 0)
tx.axis('off')
tx.patch.set_alpha(0)
tx.add_patch(Polygon(inset_box, closed=True, facecolor='#E3F1F9', edgecolor='none'))
small = Affine2D().translate(-902, -1415).scale(0.26).translate(232, 1798) + tx.transData


def draw_tree(trans, scale):
    for pts, col in zip(wedge_points, wedge_colours):
        tx.add_patch(Polygon(pts, closed=True, facecolor=col, edgecolor='none', transform=trans))
    for seg in branch_lines:
        seg = np.array(seg)
        tx.plot(seg[:, 0], seg[:, 1], color='#C4C4C4', lw=1.1 * max(scale, 0.6), transform=trans)
    for seg in dashed_lines:
        seg = np.array(seg)
        tx.plot(seg[:, 0], seg[:, 1], color='#BBBBBB', lw=1.4 * max(scale, 0.6), ls=(0, (5, 5)), transform=trans)
    for s, lx, ly, r in zip(tree_text, tree_text_x, tree_text_y, tree_text_rot):
        tx.text(lx, ly, s, fontsize=10.5 * scale, rotation=r, rotation_mode='anchor', ha='left', va='center', color='#555555', transform=trans)


draw_tree(tx.transData, 1.0)
for s, lx, ly, r in zip(clade_text, clade_x, clade_y, clade_rot):
    tx.text(lx, ly, s, fontsize=11.5, rotation=r, rotation_mode='anchor', ha='center', va='center', color='#666666')
draw_tree(small, 0.26)
for pts, col in zip(inset_wedges, inset_colours):
    tx.add_patch(Polygon(pts, closed=True, facecolor=col, edgecolor='none'))
for seg in inset_lines:
    seg = np.array(seg)
    tx.plot(seg[:, 0], seg[:, 1], color='#E2E2E2', lw=1)
for seg in inset_streaks:
    seg = np.array(seg)
    tx.plot(seg[:, 0], seg[:, 1], color='#B5B5B5', lw=0.9)
tx.text(570, 1102, 'Tree scale: 100', fontsize=9, color='#777777', va='center')
tx.plot([674, 821], [1102, 1102], color='#888888', lw=1)
tx.plot([674, 674], [1098, 1106], color='#888888', lw=1)
tx.plot([821, 821], [1098, 1106], color='#888888', lw=1)

# ---------- panel letters and title
for s, lx, ly in zip(['(A)', '(B)', '(C)', '(D)'], [56, 2185, 56, 2185], [70, 70, 1132, 1110]):
    tx.text(lx, ly, s, fontsize=43, color='black', va='center', ha='left')
title_parts = ['Automatic annotation with SingleR (', 'Tabulae Paralytica', ' reference)']
title_style = ['normal', 'italic', 'normal']
cursor = 600
renderer = fig.canvas.get_renderer()
for s, st in zip(title_parts, title_style):
    t = tx.text(cursor, 68, s, fontsize=31, style=st, va='center', ha='left', color='#111111')
    cursor = tx.transData.inverted().transform(t.get_window_extent(renderer).max)[0]

# ---------- (D) table
dx = px_axes(fig, 2317, 1101, 3224, 1962)
dx.axis('off')
cell_text = [[a, b] for a, b in zip(dend_labels, umap_groups)]
cell_cols = [[c, '#F9F9F9'] for c in dend_colours]
table = dx.table(cellText=cell_text, cellColours=cell_cols, colLabels=['DEND', 'UMAP'], colColours=['#D9DADA', '#D9DADA'], colWidths=[0.157, 0.843],
                 cellLoc='center', bbox=[0, 0, 1, 1], edges='closed')
table.auto_set_font_size(False)
for (r, c), cell in table.get_celld().items():
    cell.set_edgecolor('white')
    cell.set_linewidth(2.5)
    cell.get_text().set_fontsize(15)
    cell.get_text().set_color('#222222')
    if r == 0:
        cell.get_text().set_fontweight('bold')
        cell.get_text().set_fontsize(14.5)
        cell.get_text().set_color('#111111')
    elif c == 0 and dend_labels[r - 1] in light_text:
        cell.get_text().set_color('white')

fig.savefig('out.png', dpi=100)
